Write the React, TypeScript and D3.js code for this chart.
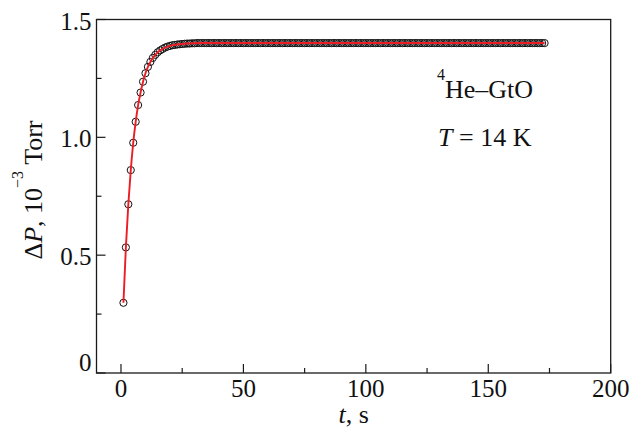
import React, { useEffect } from 'react';
import * as d3 from 'd3';

const times = [
  1, 2, 3, 4, 5, 6, 7, 8, 9, 10,
  11, 12, 13, 14, 15, 16, 17, 18, 19, 20,
  21, 22, 23, 24, 25, 26, 27, 28, 29, 30,
  31, 32, 33, 34, 35, 36, 37, 38, 39, 40,
  41, 42, 43, 44, 45, 46, 47, 48, 49, 50,
  51, 52, 53, 54, 55, 56, 57, 58, 59, 60,
  61, 62, 63, 64, 65, 66, 67, 68, 69, 70,
  71, 72, 73, 74, 75, 76, 77, 78, 79, 80,
  81, 82, 83, 84, 85, 86, 87, 88, 89, 90,
  91, 92, 93, 94, 95, 96, 97, 98, 99, 100,
  101, 102, 103, 104, 105, 106, 107, 108, 109, 110,
  111, 112, 113, 114, 115, 116, 117, 118, 119, 120,
  121, 122, 123, 124, 125, 126, 127, 128, 129, 130,
  131, 132, 133, 134, 135, 136, 137, 138, 139, 140,
  141, 142, 143, 144, 145, 146, 147, 148, 149, 150,
  151, 152, 153, 154, 155, 156, 157, 158, 159, 160,
  161, 162, 163, 164, 165, 166, 167, 168, 169, 170,
  171, 172, 173,
];

const pressure = [
  0.298, 0.533, 0.716, 0.861, 0.977, 1.066, 1.137, 1.19, 1.236, 1.272,
  1.299, 1.32, 1.337, 1.35, 1.361, 1.369, 1.375, 1.381, 1.385, 1.388,
  1.391, 1.392, 1.394, 1.395, 1.396, 1.397, 1.398, 1.398, 1.399, 1.399,
  1.4, 1.4, 1.4, 1.4, 1.4, 1.4, 1.4, 1.4, 1.4, 1.4,
  1.4, 1.4, 1.4, 1.4, 1.4, 1.4, 1.4, 1.4, 1.4, 1.4,
  1.4, 1.4, 1.4, 1.4, 1.4, 1.4, 1.4, 1.4, 1.4, 1.4,
  1.4, 1.4, 1.4, 1.4, 1.4, 1.4, 1.4, 1.4, 1.4, 1.4,
  1.4, 1.4, 1.4, 1.4, 1.4, 1.4, 1.4, 1.4, 1.4, 1.4,
  1.4, 1.4, 1.4, 1.4, 1.4, 1.4, 1.4, 1.4, 1.4, 1.4,
  1.4, 1.4, 1.4, 1.4, 1.4, 1.4, 1.4, 1.4, 1.4, 1.4,
  1.4, 1.4, 1.4, 1.4, 1.4, 1.4, 1.4, 1.4, 1.4, 1.4,
  1.4, 1.4, 1.4, 1.4, 1.4, 1.4, 1.4, 1.4, 1.4, 1.4,
  1.4, 1.4, 1.4, 1.4, 1.4, 1.4, 1.4, 1.4, 1.4, 1.4,
  1.4, 1.4, 1.4, 1.4, 1.4, 1.4, 1.4, 1.4, 1.4, 1.4,
  1.4, 1.4, 1.4, 1.4, 1.4, 1.4, 1.4, 1.4, 1.4, 1.4,
  1.4, 1.4, 1.4, 1.4, 1.4, 1.4, 1.4, 1.4, 1.4, 1.4,
  1.4, 1.4, 1.4, 1.4, 1.4, 1.4, 1.4, 1.4, 1.4, 1.4,
  1.4, 1.4, 1.4,
];

const xTicks = [0, 50, 100, 150, 200];
const xTickLabels = ['0', '50', '100', '150', '200'];
const xMinorTicks = [25, 75, 125, 175];
const yTicks = [0, 0.5, 1.0, 1.5];
const yTickLabels = ['0', '0.5', '1.0', '1.5'];
const yMinorTicks = [0.25, 0.75, 1.25];

const W = 632;
const H = 429;
const plot = { left: 96.5, right: 610.7, top: 19.5, bottom: 373 };
const FONT = '"Liberation Serif", "Times New Roman", Times, serif';
const AXIS = '#1a1a1a';

export default function App() {
  useEffect(() => {
    document.body.style.margin = '0';
  }, []);

  const x = d3.scaleLinear().domain([-10, 200]).range([plot.left, plot.right]);
  const y = d3.scaleLinear().domain([0, 1.5]).range([plot.bottom, plot.top]);

  const pts = times.map((t, i) => [t, pressure[i]] as [number, number]);
  const line = d3
    .line<[number, number]>()
    .x((d) => x(d[0]))
    .y((d) => y(d[1]))
    .curve(d3.curveMonotoneX);

  return (
    <svg
      width={W}
      height={H}
      viewBox={`0 0 ${W} ${H}`}
      style={{ position: 'absolute', left: 0, top: 0, background: '#fff' }}
      fontFamily={FONT}
    >
      <rect x={0} y={0} width={W} height={H} fill="#fff" />
      {/* data */}
      <g>
        {pts.map((d, i) => (
          <circle key={i} cx={x(d[0])} cy={y(d[1])} r={3.6} fill="none" stroke="#111" strokeWidth={1} />
        ))}
      </g>
      <path d={line(pts) || ''} fill="none" stroke="#ec1c24" strokeWidth={1.9} />

      {/* frame */}
      <rect
        x={plot.left}
        y={plot.top}
        width={plot.right - plot.left}
        height={plot.bottom - plot.top}
        fill="none"
        stroke={AXIS}
        strokeWidth={1.3}
      />

      {/* x ticks */}
      {xTicks.map((t, i) => (
        <g key={'xt' + i}>
          <line x1={x(t)} x2={x(t)} y1={plot.bottom} y2={plot.bottom - 9} stroke={AXIS} strokeWidth={1.2} />
          <text x={x(t)} y={plot.bottom + 24} textAnchor="middle" fontSize={25} fill="#111">
            {xTickLabels[i]}
          </text>
        </g>
      ))}
      {xMinorTicks.map((t, i) => (
        <line key={'xm' + i} x1={x(t)} x2={x(t)} y1={plot.bottom} y2={plot.bottom - 5} stroke={AXIS} strokeWidth={1.2} />
      ))}

      {/* y ticks */}
      {yTicks.map((t, i) => (
        <g key={'yt' + i}>
          <line x1={plot.left} x2={plot.left + 9} y1={y(t)} y2={y(t)} stroke={AXIS} strokeWidth={1.2} />
          <text
            x={plot.left - 5}
            y={y(t) + (t === 0 ? -11 : 1.5) + 8.5}
            textAnchor="end"
            fontSize={25}
            fill="#111"
          >
            {yTickLabels[i]}
          </text>
        </g>
      ))}
      {yMinorTicks.map((t, i) => (
        <line key={'ym' + i} x1={plot.left} x2={plot.left + 5} y1={y(t)} y2={y(t)} stroke={AXIS} strokeWidth={1.2} />
      ))}

      {/* axis titles */}
      <text x={(plot.left + plot.right) / 2} y={423} textAnchor="middle" fontSize={26} fill="#111">
        <tspan fontStyle="italic">t</tspan>
        <tspan>, s</tspan>
      </text>
      <text transform="translate(42,190) rotate(-90)" textAnchor="middle" fontSize={26} fill="#111">
        <tspan>Δ</tspan>
        <tspan fontStyle="italic">P</tspan>
        <tspan>, 10</tspan>
        <tspan fontSize={16} dy={-19}>−3</tspan>
        <tspan dy={19}> Torr</tspan>
      </text>

      {/* annotations */}
      <text x={437} y={98.3} fontSize={26} fill="#111">
        <tspan fontSize={16} dy={-18}>4</tspan>
        <tspan dy={18}>He–GtO</tspan>
      </text>
      <text x={438} y={145.7} fontSize={26} fill="#111">
        <tspan fontStyle="italic">T</tspan>
        <tspan> = 14 K</tspan>
      </text>
    </svg>
  );
}
